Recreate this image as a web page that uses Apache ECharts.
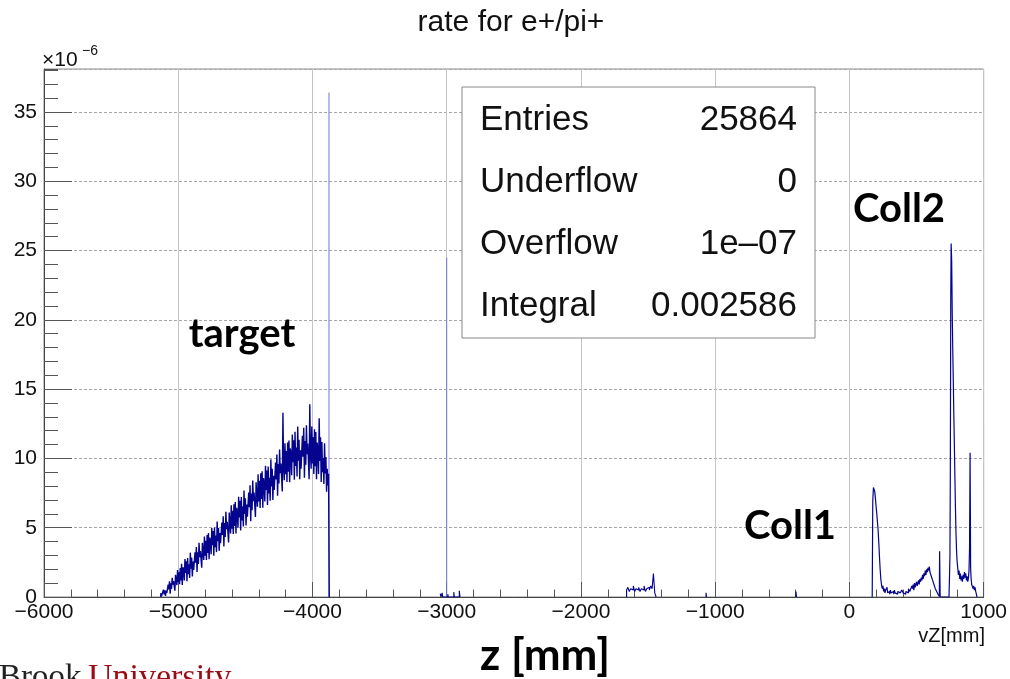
<!DOCTYPE html>
<html>
<head>
<meta charset="utf-8">
<script src="https://cdn.jsdelivr.net/npm/echarts@6/dist/echarts.min.js"></script>
<style>html,body{margin:0;padding:0;background:#fff;}#c{width:1010px;height:679px;}</style>
</head>
<body>
<div id="c"></div>
<script>
// ---------------- data (rate in units of 1e-6) ----------------
const chartTitle = 'rate for e+/pi+';
const xAxisTitle = 'vZ[mm]';
const yExponent = '\u22126';
const xTickValues = [-6000, -5000, -4000, -3000, -2000, -1000, 0, 1000];
const yTickValues = [0, 5, 10, 15, 20, 25, 30, 35];

// target region histogram (bin width 5 mm, first bin at -5130 mm)
const binWidth = 5;
const targetStart = -5130;
const targetRate = [
  0.27, 0.05, 0.19, 0.05, 0.53, 0.19, 0.48, 0.08, 0.46, 0.3,
  0.19, 0.89, 0.54, 1.14, 0.24, 0.99, 0.59, 1.39, 0.89, 1.14,
  1.25, 0.45, 1.6, 1.2, 0.86, 1.95, 1.09, 1.79, 0.93, 2.09,
  1.2, 2.4, 0.87, 2.15, 1.94, 1.19, 2.74, 1.73, 2.58, 1.13,
  2.81, 1.65, 2.36, 1.38, 3.2, 2.04, 2.84, 1.49, 2.56, 1.96,
  1.89, 3.22, 2.48, 3.61, 1.8, 3.22, 2.39, 3.91, 2.88, 3.32,
  3.4, 2.11, 3.91, 3.24, 2.67, 4.37, 2.98, 4.06, 2.67, 4.47,
  3.17, 4.62, 2.73, 4.29, 4.02, 3.09, 4.98, 3.73, 4.76, 2.97,
  5.01, 3.59, 4.44, 3.24, 5.44, 4.02, 4.98, 3.33, 4.62, 3.88,
  3.79, 5.38, 4.48, 5.83, 3.64, 5.34, 4.33, 6.15, 4.9, 5.42,
  5.5, 3.94, 6.1, 5.28, 4.59, 6.62, 4.93, 6.22, 4.54, 6.7,
  5.12, 6.85, 4.58, 6.44, 6.1, 4.99, 7.23, 5.73, 6.94, 4.8,
  7.22, 5.53, 6.52, 5.09, 7.69, 6.0, 7.12, 5.16, 6.68, 5.8,
  5.69, 7.54, 6.48, 8.06, 5.47, 7.47, 6.26, 8.4, 6.92, 7.53,
  7.6, 5.78, 8.28, 7.32, 6.51, 8.86, 6.89, 8.38, 6.42, 8.92,
  7.08, 9.07, 6.44, 8.58, 8.18, 6.89, 9.47, 7.73, 9.12, 6.64,
  9.42, 7.47, 8.6, 6.95, 9.93, 7.98, 9.26, 7.0, 8.74, 7.72,
  7.58, 9.7, 8.48, 10.28, 7.31, 9.59, 8.2, 10.64, 8.94, 9.63,
  9.7, 7.62, 13.3, 9.36, 8.43, 11.1, 8.85, 10.54, 8.3, 11.14,
  9.04, 11.3, 8.29, 10.72, 10.26, 8.78, 11.72, 9.73, 11.31, 8.47,
  11.92, 9.45, 10.78, 8.69, 12.3, 9.83, 11.35, 8.5, 10.59, 9.26,
  9.17, 11.64, 10.12, 12.21, 8.6, 11.26, 9.55, 12.4, 10.31, 11.07,
  10.97, 8.5, 13.9, 10.4, 9.26, 12.3, 9.64, 11.54, 8.88, 12.11,
  9.44, 11.91, 8.49, 11.15, 10.58, 8.87, 12.9, 9.82, 11.53, 8.3,
  11.18, 9.0, 10.02, 8.16, 11.1, 8.92, 10.1, 7.6, 9.26, 8.04,
  8.9
];

// small structures near -3000 mm
const lowZ    = [-3048, -3043, -3034, -3030, -2992, -2988, -2947, -2943, -2906, -2901];
const lowRate = [0.25, 0, 0.3, 0, 0.2, 0, 0.35, 0, 0.45, 0];

// region around -1550 mm (bin width 10 mm, first bin at -1660 mm)
const midBin = 10;
const midStart = -1660;
const midRate = [
  0.5, 0.7, 0.4, 0.6, 0.5, 0.8, 0.4, 0.6, 0.5, 0.7,
  0.4, 0.6, 0.5, 0.8, 0.4, 0.6, 0.7, 0.5, 0.8, 0.6, 1.7, 0.3
];

// isolated blips (4 mm wide)
const blipZ    = [-1068, -398];
const blipRate = [0.3, 0.4];

// collimator region (Coll1 / Coll2)
const collZ = [
  170, 174, 179, 184, 189, 194, 199, 204, 209, 214, 219, 224, 229, 234, 239,
  245, 250, 255, 260, 265, 270, 275, 280, 285, 290, 300, 305, 310, 320, 330,
  335, 340, 350, 360, 370, 380, 390, 400, 410, 420, 430, 440, 450, 460, 465,
  470, 475, 480, 485, 490, 495, 500, 505, 510, 515, 520, 525, 530, 535, 540,
  545, 550, 555, 560, 565, 570, 575, 580, 585, 590, 595, 600, 605, 610, 615,
  620, 625, 630, 635, 640, 645, 650, 655, 660, 665, 670, 672, 676,
  742, 746, 749, 752, 755, 758, 762, 766, 770, 774, 778, 782, 786, 790, 794,
  798, 802, 807, 812, 817, 822, 827, 832, 837, 842, 847, 852, 857, 862, 867,
  872, 877, 882, 887, 891, 895, 899, 903, 907, 911, 916, 921, 926, 931, 936,
  941, 946, 950
];
const collRate = [
  0, 6.9, 7.9, 8.0, 7.6, 7.1, 6.5, 6.0, 5.4, 4.8, 3.9, 2.9, 2.0, 1.3, 0.9,
  0.6, 0.8, 0.4, 0.6, 0.3, 0.5, 0.4, 0.7, 0.3, 0.4, 0.2, 0.5, 0.3, 0.4, 0.2,
  0.5, 0.3, 0.2, 0.4, 0.3, 0.2, 0.5, 0.3, 0.2, 0.4, 0.3, 0.6, 0.4, 0.5, 0.8,
  0.6, 0.9, 0.5, 1.0, 0.7, 0.6, 1.1, 0.8, 0.9, 1.2, 0.9, 1.3, 1.1, 1.4, 1.2,
  1.6, 1.3, 1.7, 1.5, 1.9, 1.6, 2.0, 1.8, 2.1, 1.9, 2.2, 1.8, 1.9, 1.5, 1.6,
  1.2, 1.1, 0.9, 0.8, 0.6, 0.5, 0.4, 0.3, 0.2, 0.1, 0.05, 3.3, 0,
  0, 1.6, 3.0, 9.5, 21.5, 25.5, 24.2, 20.5, 17.8, 15.6, 13.1, 10.9, 8.6, 6.4, 4.6,
  3.4, 2.6, 2.1, 1.6, 1.9, 1.3, 1.7, 1.2, 1.5, 1.1, 1.6, 1.3, 1.8, 1.4, 1.7,
  1.2, 1.5, 1.1, 1.4, 1.9, 3.5, 10.4, 2.1, 1.3, 0.9, 1.0, 0.6, 0.8, 0.5, 0.7,
  0.4, 0.2, 0
];

// single-bin spikes
const spikeZ    = [-3877, -3000];
const spikeRate = [36.4, 24.5];

// stats box
const statNames  = ['Entries', 'Underflow', 'Overflow', 'Integral'];
const statValues = ['25864', '0', '1e\u201307', '0.002586'];

// annotations
const notes = ['target', 'Coll1', 'Coll2', 'z [mm]'];

// ---------------- build ----------------
function binned(start, w, arr) {
  const d = [[start, 0]];
  arr.forEach((v, i) => d.push([start + i * w, v]));
  d.push([start + arr.length * w, 0]);
  return d;
}
function paired(zs, vs) {
  return zs.map((z, i) => [z, vs[i]]);
}
const lineColor = '#04048f';
function histSeries(data, w) {
  return {
    type: 'line', step: 'end', data: data, showSymbol: false, symbol: 'none',
    silent: true, lineStyle: { color: lineColor, width: w || 1.1 }, z: 3
  };
}
const fmt = v => String(v).replace('-', '\u2212');
const axisFont = 'Liberation Sans';
const tickColor = '#555';

const chart = echarts.init(document.getElementById('c'), null, { renderer: 'canvas' });

const option = {
  animation: false,
  backgroundColor: '#fff',
  grid: { left: 44, right: 25, top: 69, bottom: 82, show: true, borderColor: '#8a8a8a', borderWidth: 1 },
  xAxis: [
    {
      type: 'value', min: xTickValues[0], max: xTickValues[xTickValues.length - 1], interval: 1000,
      axisLine: { show: true, onZero: false, lineStyle: { color: '#444', width: 1 } },
      axisTick: { show: true, inside: true, length: 15, lineStyle: { color: tickColor } },
      axisLabel: { formatter: fmt, fontFamily: axisFont, fontSize: 21, color: '#111', margin: 5 },
      splitLine: { show: true, lineStyle: { color: '#c6c6c6', width: 1 } }
    },
    {
      type: 'value', position: 'bottom', min: xTickValues[0], max: xTickValues[xTickValues.length - 1], interval: 200,
      axisLine: { show: false, onZero: false }, axisLabel: { show: false }, splitLine: { show: false },
      axisTick: { show: true, inside: true, length: 7.5, lineStyle: { color: tickColor } }
    }
  ],
  yAxis: [
    {
      type: 'value', min: yTickValues[0], max: 38.1, interval: 5,
      axisLine: { show: true, onZero: false, lineStyle: { color: '#444', width: 1 } },
      axisTick: { show: true, inside: true, length: 28, lineStyle: { color: tickColor } },
      axisLabel: { showMaxLabel: false, fontFamily: axisFont, fontSize: 21, color: '#111', margin: 7 },
      splitLine: { show: true, lineStyle: { color: '#a8a8a8', width: 1, type: [3, 2] } }
    },
    {
      type: 'value', position: 'left', min: yTickValues[0], max: 38.1, interval: 1,
      axisLine: { show: false, onZero: false }, axisLabel: { show: false }, splitLine: { show: false },
      axisTick: { show: true, inside: true, length: 14, lineStyle: { color: tickColor } }
    }
  ],
  series: [
    histSeries(binned(targetStart, binWidth, targetRate), 1.4),
    histSeries(paired(lowZ, lowRate)),
    histSeries(binned(midStart, midBin, midRate)),
    ...blipZ.map((z, i) => histSeries(binned(z, 4, [blipRate[i]]))),
    histSeries(paired(collZ, collRate), 1.2),
    {
      type: 'bar', barWidth: 1, silent: true, z: 3,
      data: paired(spikeZ, spikeRate),
      itemStyle: { color: '#7474dc' }
    }
  ],
  graphic: [
    { type: 'text', x: 511, y: 23, z: 50, style: { text: chartTitle, font: '30px "Liberation Sans"', fill: '#111', textAlign: 'center', textVerticalAlign: 'middle' } },
    { type: 'text', x: 42, y: 60, z: 50, style: { text: '\u00d710', font: '21px "Liberation Sans"', fill: '#111', textAlign: 'left', textVerticalAlign: 'middle' } },
    { type: 'text', x: 82, y: 51, z: 50, style: { text: yExponent, font: '14px "Liberation Sans"', fill: '#111', textAlign: 'left', textVerticalAlign: 'middle' } },
    { type: 'text', x: 985, y: 636, z: 50, style: { text: xAxisTitle, font: '20px "Liberation Sans"', fill: '#111', textAlign: 'right', textVerticalAlign: 'middle' } },
    { type: 'rect', z: 40, shape: { x: 462, y: 87, width: 353, height: 251 }, style: { fill: '#fff', stroke: '#888', lineWidth: 1 } },
    ...statNames.map((s, i) => ({ type: 'text', x: 480, y: 120 + i * 62, z: 50, style: { text: s, font: '35px "Liberation Sans"', fill: '#111', textAlign: 'left', textVerticalAlign: 'middle' } })),
    ...statValues.map((s, i) => ({ type: 'text', x: 797, y: 120 + i * 62, z: 50, style: { text: s, font: '35px "Liberation Sans"', fill: '#111', textAlign: 'right', textVerticalAlign: 'middle' } })),
    { type: 'text', x: 242, y: 334, z: 50, style: { text: notes[0], font: 'bold 40px Lato', fill: '#000', textAlign: 'center', textVerticalAlign: 'middle' } },
    { type: 'text', x: 790, y: 526, z: 50, style: { text: notes[1], font: 'bold 40px Lato', fill: '#000', textAlign: 'center', textVerticalAlign: 'middle' } },
    { type: 'text', x: 899, y: 209, z: 50, style: { text: notes[2], font: 'bold 40px Lato', fill: '#000', textAlign: 'center', textVerticalAlign: 'middle' } },
    { type: 'text', x: 545, y: 656, z: 50, style: { text: notes[3], font: 'bold 44px Lato', fill: '#000', textAlign: 'center', textVerticalAlign: 'middle' } },
    { type: 'text', x: -1, y: 678, z: 50, style: { text: 'Brook', font: '33px "Liberation Serif"', fill: '#222', textAlign: 'left', textVerticalAlign: 'middle' } },
    { type: 'text', x: 88, y: 678, z: 50, style: { text: 'University', font: '34px "Liberation Serif"', fill: '#9b0d14', textAlign: 'left', textVerticalAlign: 'middle' } }
  ]
};
chart.setOption(option);
</script>
</body>
</html>
